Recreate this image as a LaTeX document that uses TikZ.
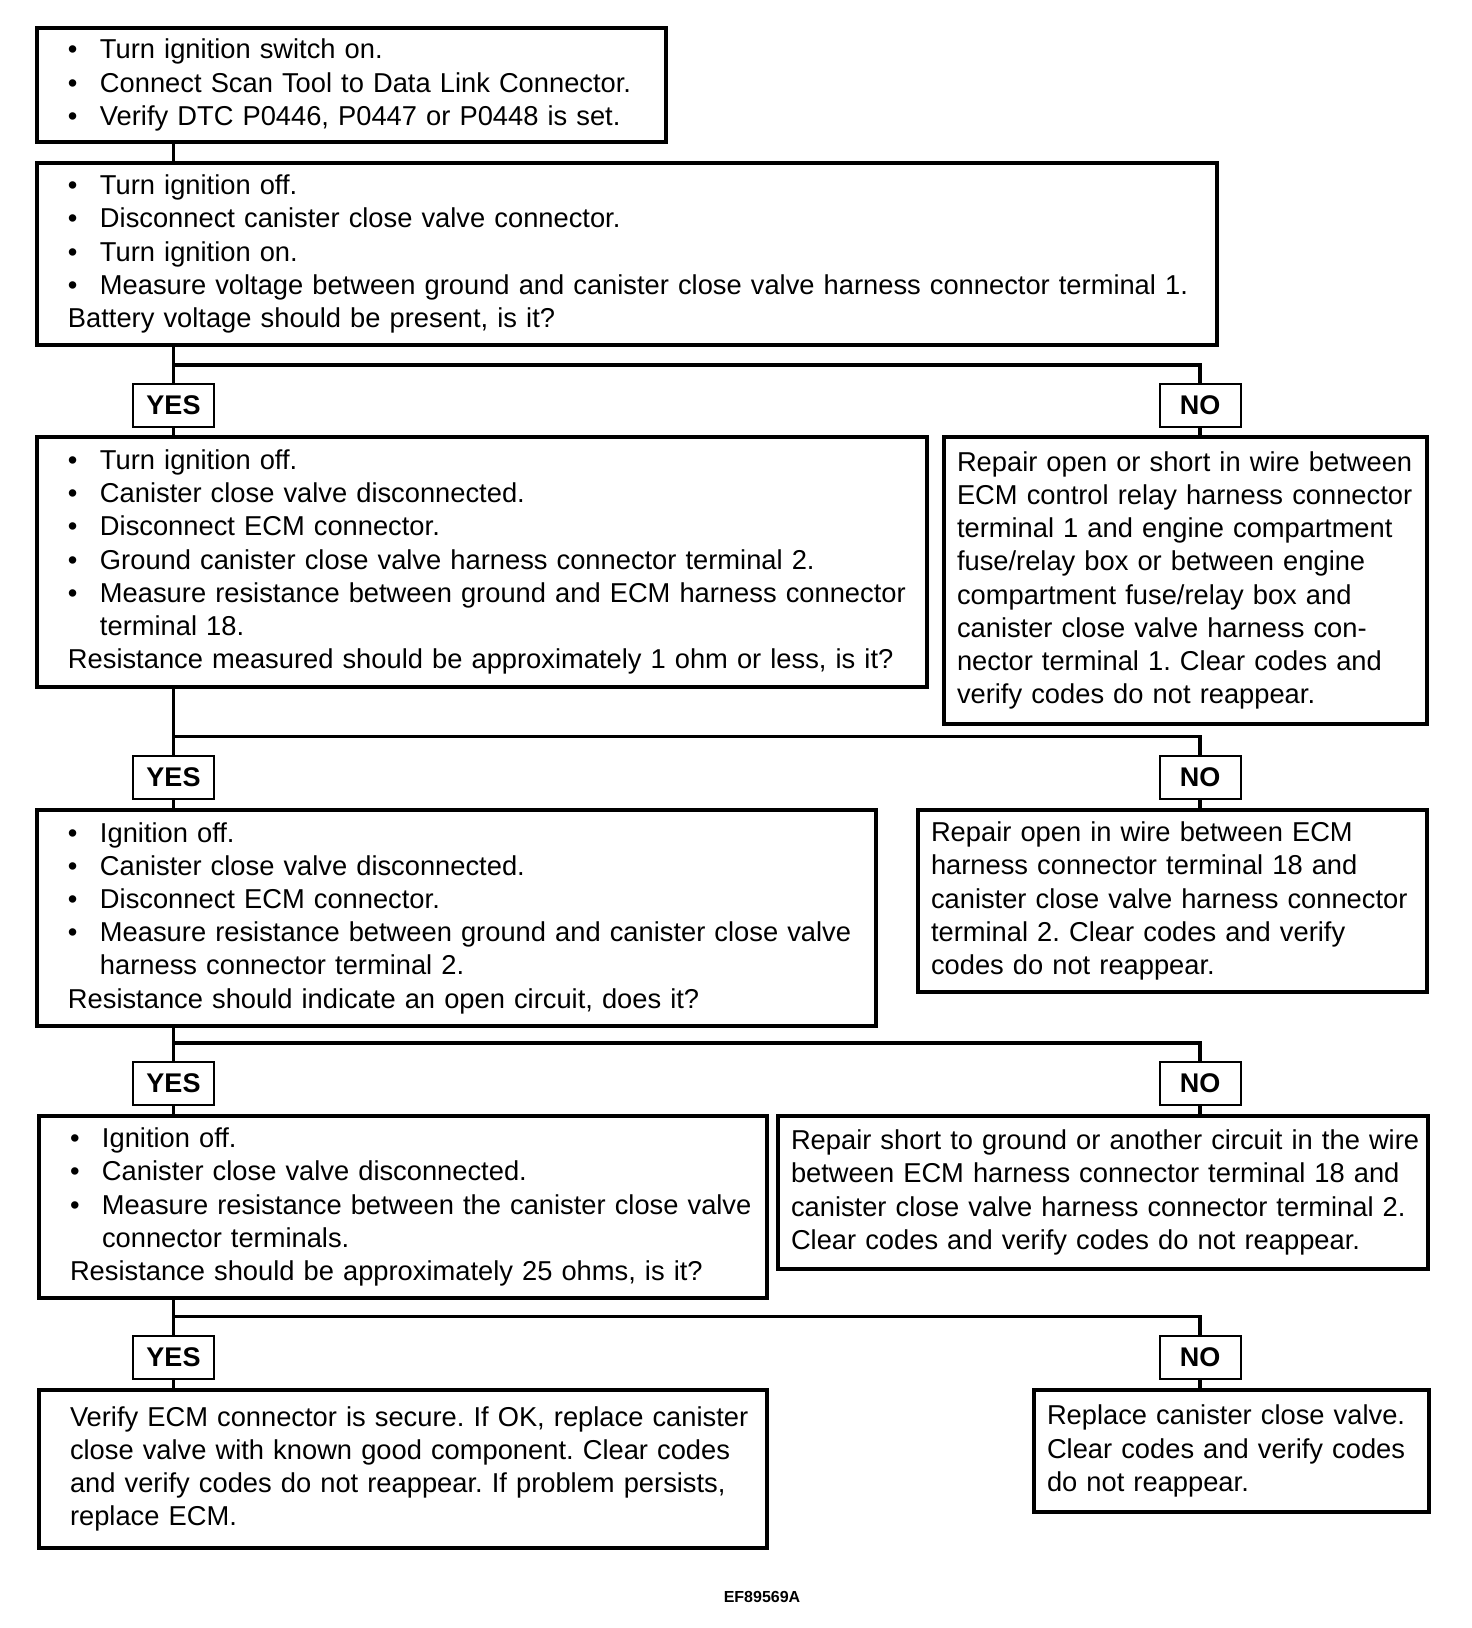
\documentclass[tikz,border=0pt]{standalone}
\usepackage{fontspec}
\setmainfont{Liberation Sans}
\frenchspacing

\newcommand{\bul}[1]{\makebox[16pt][l]{\textbullet}\mbox{#1}}
\newcommand{\contline}[1]{\hspace*{16pt}\mbox{#1}}
\newcommand{\pline}[1]{\mbox{#1}}

\begin{document}
\begin{tikzpicture}[x=0.5pt, y=-0.5pt,
	box/.style={draw, line width=1.7pt, anchor=north west, outer sep=0pt, align=left,
		inner xsep=15.5pt, inner ysep=0pt, font=\fontsize{13.65pt}{16.6pt}\selectfont},
	rbox/.style={box, inner xsep=6.5pt},
	tag/.style={draw, line width=1pt, minimum width=40.5pt, minimum height=21.5pt,
		inner sep=0pt, font=\bfseries\fontsize{13.5pt}{14pt}\selectfont},
	wire/.style={line width=1.6pt}]
	\useasboundingbox (0,0) rectangle (1472,1628);

	\node[box, text width=283.5pt, minimum height=57pt] (s1) at (37,28) {%
		\bul{Turn ignition switch on.}\\
		\bul{Connect Scan Tool to Data Link Connector.}\\
		\bul{Verify DTC P0446, P0447 or P0448 is set.}};
	\node[box, text width=559pt, minimum height=91pt] (s2) at (37,163) {%
		\bul{Turn ignition off.}\\
		\bul{Disconnect canister close valve connector.}\\
		\bul{Turn ignition on.}\\
		\bul{Measure voltage between ground and canister close valve harness connector terminal 1.}\\
		\pline{Battery voltage should be present, is it?}};
	\node[box, text width=414pt, minimum height=125pt] (s3) at (37,437) {%
		\bul{Turn ignition off.}\\
		\bul{Canister close valve disconnected.}\\
		\bul{Disconnect ECM connector.}\\
		\bul{Ground canister close valve harness connector terminal 2.}\\
		\bul{Measure resistance between ground and ECM harness connector}\\
		\contline{terminal 18.}\\
		\pline{Resistance measured should be approximately 1 ohm or less, is it?}};
	\node[rbox, text width=228.5pt, minimum height=143.5pt] (r1) at (944,437) {%
		\pline{Repair open or short in wire between}\\
		\pline{ECM control relay harness connector}\\
		\pline{terminal 1 and engine compartment}\\
		\pline{fuse/relay box or between engine}\\
		\pline{compartment fuse/relay box and}\\
		\pline{canister close valve harness con-}\\
		\pline{nector terminal 1. Clear codes and}\\
		\pline{verify codes do not reappear.}};
	\node[box, text width=388.5pt, minimum height=108pt] (s4) at (37,810) {%
		\bul{Ignition off.}\\
		\bul{Canister close valve disconnected.}\\
		\bul{Disconnect ECM connector.}\\
		\bul{Measure resistance between ground and canister close valve}\\
		\contline{harness connector terminal 2.}\\
		\pline{Resistance should indicate an open circuit, does it?}};
	\node[rbox, text width=241.5pt, minimum height=91pt] (r2) at (918,810) {%
		\pline{Repair open in wire between ECM}\\
		\pline{harness connector terminal 18 and}\\
		\pline{canister close valve harness connector}\\
		\pline{terminal 2. Clear codes and verify}\\
		\pline{codes do not reappear.}};
	\node[box, text width=333pt, minimum height=91pt] (s5) at (39,1116) {%
		\bul{Ignition off.}\\
		\bul{Canister close valve disconnected.}\\
		\bul{Measure resistance between the canister close valve}\\
		\contline{connector terminals.}\\
		\pline{Resistance should be approximately 25 ohms, is it?}};
	\node[rbox, text width=312pt, minimum height=76.5pt] (r3) at (778,1116) {%
		\pline{Repair short to ground or another circuit in the wire}\\
		\pline{between ECM harness connector terminal 18 and}\\
		\pline{canister close valve harness connector terminal 2.}\\
		\pline{Clear codes and verify codes do not reappear.}};
	\node[box, text width=333pt, minimum height=79pt] (s6) at (39,1390) {%
		\pline{Verify ECM connector is secure. If OK, replace canister}\\
		\pline{close valve with known good component. Clear codes}\\
		\pline{and verify codes do not reappear. If problem persists,}\\
		\pline{replace ECM.}};
	\node[rbox, text width=184.5pt, minimum height=61pt] (r4) at (1034,1390) {%
		\pline{Replace canister close valve.}\\
		\pline{Clear codes and verify codes}\\
		\pline{do not reappear.}};

	\foreach[count=\k] \yy in {405.5,777,1083.5,1357} {
		\node[tag] (y\k) at (173.5,\yy) {YES};
		\node[tag] (n\k) at (1200,\yy) {NO};
		\draw[wire] (y\k.north) ++(0,-18) coordinate (b\k) -| (n\k.north);
	}

	\draw[wire] (s1.south -| y1) -- (s2.north -| y1);
	\foreach \k/\a/\b in {1/2/3, 2/3/4, 3/4/5, 4/5/6} {
		\draw[wire] (s\a.south -| y\k) -- (y\k.north);
		\draw[wire] (y\k.south) -- (s\b.north -| y\k);
		\draw[wire] (n\k.south) -- (r\k.north -| n\k);
	}

	\node[font=\bfseries\fontsize{8pt}{9pt}\selectfont] (code) at (762,1597) {EF89569A};
\end{tikzpicture}
\end{document}
